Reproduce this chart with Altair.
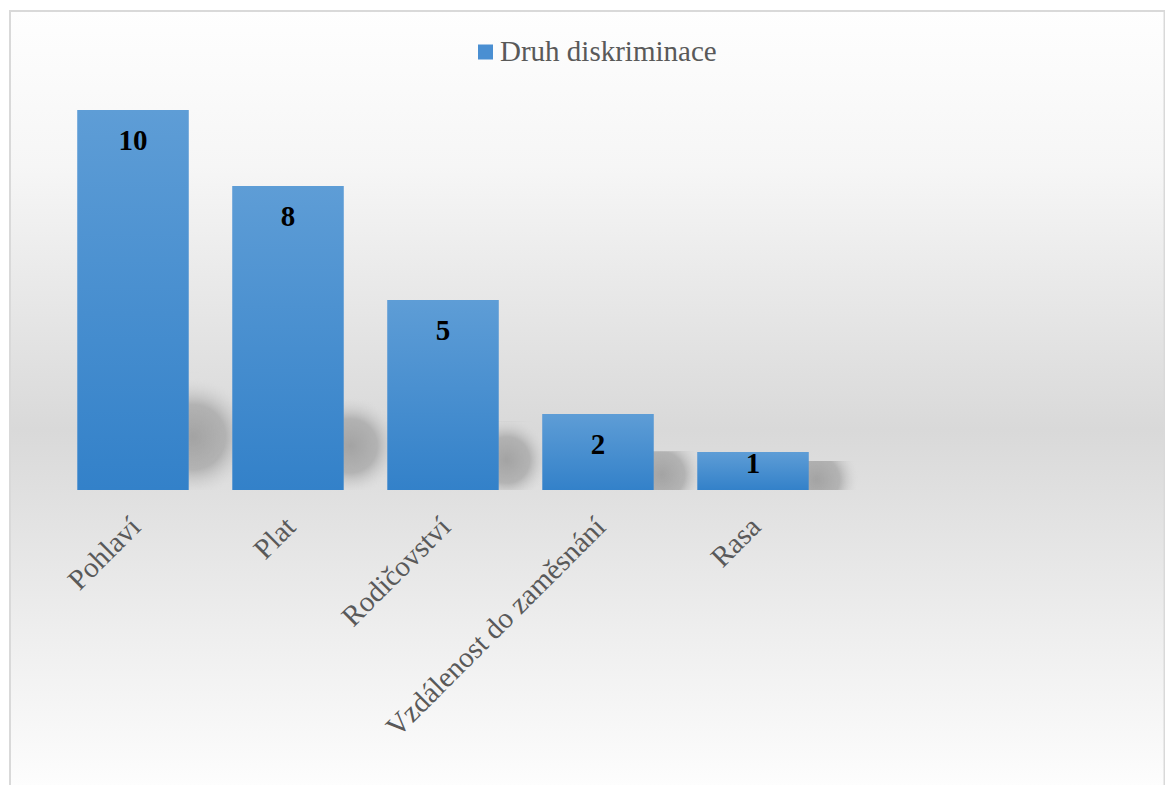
import altair as alt
import pandas as pd

# ---- data ----
categories = ["Pohlaví", "Plat", "Rodičovství", "Vzdálenost do zaměsnání", "Rasa"]
values = [10, 8, 5, 2, 1]
empty_slots = [" ", "  "]          # two empty category slots on the right
series_name = "Druh diskriminace"

df = pd.DataFrame({
    "kategorie": categories,
    "pocet": values,
    "serie": [series_name] * len(categories),
})
domain = categories + empty_slots

FONT = "Liberation Serif"

bar_gradient = {
    "gradient": "linear", "x1": 0, "y1": 0, "x2": 0, "y2": 1,
    "stops": [{"offset": 0, "color": "#5e9dd6"}, {"offset": 1, "color": "#3381c9"}],
}
bg_gradient = {
    "gradient": "linear", "x1": 0, "y1": 0, "x2": 0, "y2": 1,
    "stops": [
        {"offset": 0, "color": "#fefefe"},
        {"offset": 0.2, "color": "#f6f6f6"},
        {"offset": 0.54, "color": "#d9d9d9"},
        {"offset": 0.8, "color": "#eeeeee"},
        {"offset": 1, "color": "#fdfdfd"},
    ],
}
shadow_gradient = {
    "gradient": "radial", "x1": 0.4, "y1": 0.55, "r1": 0.0,
    "x2": 0.4, "y2": 0.55, "r2": 0.5,
    "stops": [
        {"offset": 0, "color": "rgba(160,160,160,0.95)"},
        {"offset": 0.55, "color": "rgba(165,165,165,0.75)"},
        {"offset": 1, "color": "rgba(215,215,215,0)"},
    ],
}

x_enc = alt.X(
    "kategorie:N",
    sort=domain,
    scale=alt.Scale(domain=domain, paddingInner=0.284, paddingOuter=0.142),
    axis=alt.Axis(
        title=None, labelAngle=-45, labelFontSize=29, labelColor="#595959",
        labelFont=FONT, ticks=False, domain=False,
        labelPadding=22, labelOffset=-7, labelLimit=500, labelOverlap=False, zindex=2,
    ),
)
y_scale = alt.Scale(domain=[0, 10], nice=False, zero=True)
y_enc = alt.Y("pocet:Q", scale=y_scale, axis=None)

background = alt.Chart(alt.Data(values=[{"bg": 1}])).mark_rect(
    fill=bg_gradient, stroke="#d9d9d9", strokeWidth=2
).encode(
    x=alt.value(-45.5), x2=alt.value(1109), y=alt.value(-99), y2=alt.value(676)
)

shadows = alt.Chart(df).transform_calculate(
    shadow_top="datum.pocet * 0.26 + 0.5"
).mark_bar(fill=shadow_gradient, width=84, xOffset=72).encode(
    x=x_enc,
    y=alt.Y("shadow_top:Q", scale=y_scale, axis=None),
    y2=alt.datum(0),
)

legend_layer = alt.Chart(df).mark_bar().encode(
    x=x_enc, y=y_enc,
    color=alt.Color(
        "serie:N",
        scale=alt.Scale(range=["#4a8fd2"]),
        legend=alt.Legend(
            title=None, orient="none", legendX=415.5, legendY=-72.5,
            symbolType="square", symbolSize=225, symbolStrokeWidth=0,
            labelFont=FONT, labelFontSize=29, labelColor="#595959",
            labelOffset=0, padding=0, labelLimit=500,
        ),
    ),
)

bars = alt.Chart(df).mark_bar(fill=bar_gradient).encode(x=x_enc, y=y_enc)

labels = alt.Chart(df).transform_calculate(
    label_y="datum.pocet >= 2 ? datum.pocet - 1.05 : datum.pocet * 0.45"
).mark_text(
    font=FONT, fontSize=29, fontWeight="bold", color="#000000",
    align="center", baseline="alphabetic",
).encode(
    x=x_enc,
    y=alt.Y("label_y:Q", scale=y_scale, axis=None),
    text="pocet:Q",
)

chart = alt.layer(background, shadows, legend_layer, bars, labels).properties(
    width=1085, height=380,
    autosize=alt.AutoSizeParams(type="none"),
    padding={"left": 55.5, "top": 110, "right": 24.5, "bottom": 295},
    background="#ffffff",
).configure_view(stroke=None)

chart.save("out.html", embed_options={"renderer": "svg", "actions": False})
